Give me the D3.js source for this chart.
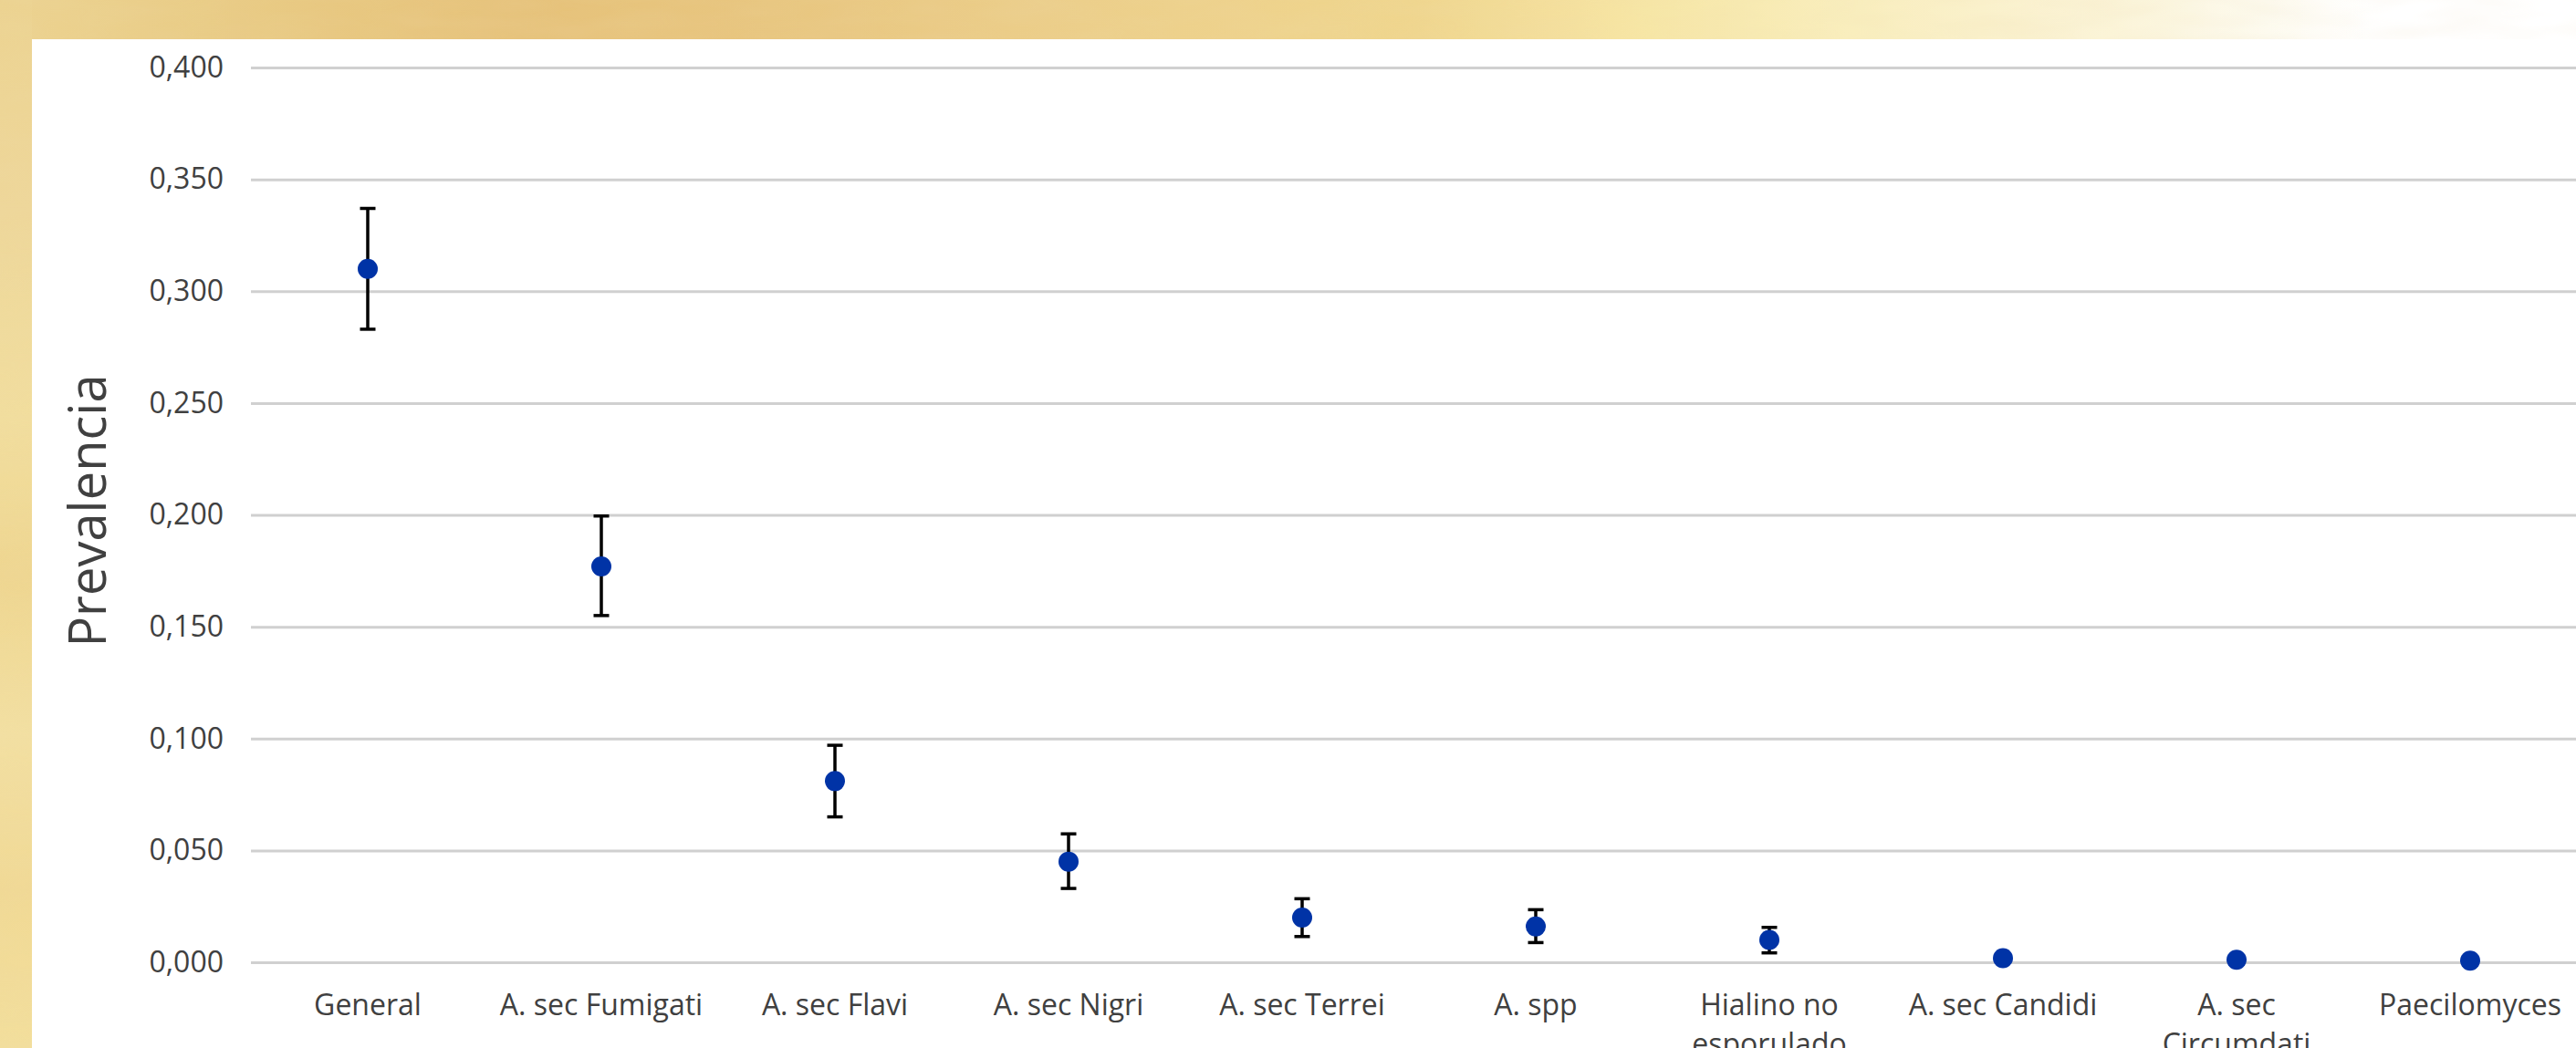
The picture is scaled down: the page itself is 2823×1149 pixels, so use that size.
<!DOCTYPE html>
<html>
<head>
<meta charset="utf-8">
<script src="https://cdn.jsdelivr.net/npm/d3@7/dist/d3.min.js"></script>
<style>
  html, body { margin: 0; padding: 0; background: #ffffff; overflow: hidden; }
  svg { display: block; }
  text { font-family: "Open Sans", "Noto Sans", sans-serif; fill: #404040; }
</style>
</head>
<body>
<svg id="chart" width="2823" height="1149"></svg>
<script>
// Prevalence by fungal group, with 95% confidence intervals
const categories = [
  "General", "A. sec Fumigati", "A. sec Flavi", "A. sec Nigri", "A. sec Terrei",
  "A. spp", "Hialino no esporulado", "A. sec Candidi", "A. sec Circumdati", "Paecilomyces"
];
const prevalence = [0.310, 0.177, 0.081, 0.045, 0.020, 0.016, 0.010, 0.0018, 0.0011, 0.0007];
const ciLow  = [0.283, 0.155, 0.065, 0.033, 0.0115, 0.0088, 0.0042, null, null, null];
const ciHigh = [0.337, 0.1995, 0.097, 0.0574, 0.0284, 0.0235, 0.0156, null, null, null];
const yTicks = [0, 0.05, 0.10, 0.15, 0.20, 0.25, 0.30, 0.35, 0.40];
const yTitle = "Prevalencia";

const W = 2823, H = 1149;
const svg = d3.select("#chart");
const defs = svg.append("defs");

// Decorative backdrop: warm parchment band along top and left edges
const topGrad = defs.append("linearGradient").attr("id", "topBand")
  .attr("x1", 0).attr("x2", 1).attr("y1", 0).attr("y2", 0);
[[0, "#ecd391"], [0.08, "#e9cc86"], [0.2, "#e6c27a"], [0.3, "#e8c680"], [0.42, "#eccf8b"],
 [0.55, "#f0d68e"], [0.64, "#f7e6a6"], [0.72, "#f9eebe"], [0.82, "#fbf4d8"], [0.88, "#fdfaee"], [0.92, "#ffffff"], [1, "#ffffff"]]
  .forEach(([o, c]) => topGrad.append("stop").attr("offset", o).attr("stop-color", c));

const leftGrad = defs.append("linearGradient").attr("id", "leftBand")
  .attr("x1", 0).attr("x2", 0).attr("y1", 0).attr("y2", 1);
[[0, "#ecd391"], [0.2, "#eed79a"], [0.4, "#f2de9e"], [0.55, "#efd690"], [0.7, "#f3e0a2"], [0.85, "#f1d995"], [1, "#f3df9c"]]
  .forEach(([o, c]) => leftGrad.append("stop").attr("offset", o).attr("stop-color", c));

const mottle = defs.append("filter").attr("id", "mottle")
  .attr("x", 0).attr("y", 0).attr("width", 1).attr("height", 1);
mottle.append("feTurbulence").attr("type", "fractalNoise")
  .attr("baseFrequency", "0.012 0.05").attr("numOctaves", 2).attr("seed", 7).attr("result", "n");
mottle.append("feColorMatrix").attr("in", "n").attr("type", "matrix")
  .attr("values", "0 0 0 0 0.85  0 0 0 0 0.7  0 0 0 0 0.4  0 0 0 0.22 -0.06").attr("result", "m");
mottle.append("feComposite").attr("in", "m").attr("in2", "SourceGraphic").attr("operator", "in").attr("result", "mm");
mottle.append("feMerge").selectAll("feMergeNode").data(["SourceGraphic", "mm"]).join("feMergeNode").attr("in", d => d);

const panel = { x: 35, y: 43 };
const backdrop = svg.append("g").attr("filter", "url(#mottle)");
backdrop.append("rect").attr("x", 0).attr("y", 0).attr("width", W).attr("height", panel.y).attr("fill", "url(#topBand)");
backdrop.append("rect").attr("x", 0).attr("y", 0).attr("width", panel.x).attr("height", H).attr("fill", "url(#leftBand)");
svg.append("rect").attr("x", panel.x).attr("y", panel.y).attr("width", W - panel.x).attr("height", H - panel.y).attr("fill", "#ffffff");

// Plot area
const plot = { left: 275, right: 2835, top: 74, bottom: 1055 };

const x = d3.scaleBand().domain(categories).range([plot.left, plot.right]).padding(0);
const y = d3.scaleLinear().domain([0, 0.4]).range([plot.bottom, plot.top]);

const locale = d3.formatLocale({ decimal: ",", thousands: ".", grouping: [3], currency: ["", "€"] });
const fmt = locale.format(".3f");

// Horizontal gridlines and value labels
const yAxis = d3.axisLeft(y).tickValues(yTicks).tickFormat(fmt)
  .tickSize(-(W - plot.left)).tickPadding(30);
const gy = svg.append("g").attr("transform", `translate(${plot.left},0)`).call(yAxis);
gy.select(".domain").remove();
gy.selectAll(".tick line").attr("stroke", "#d0d0d0").attr("stroke-width", 3);
gy.selectAll(".tick text").attr("fill", "#404040").style("font-size", "32px")
  .style("font-family", "'Open Sans', 'Noto Sans', sans-serif");

// Category labels, wrapped to the band width
const labelMax = 236;
const gx = svg.append("g");
categories.forEach(name => {
  const t = gx.append("text")
    .attr("x", x(name) + x.bandwidth() / 2).attr("y", 1113)
    .attr("text-anchor", "middle").style("font-size", "32px");
  const words = name.split(" ");
  let line = [], tspan = t.append("tspan").attr("x", x(name) + x.bandwidth() / 2).attr("dy", 0);
  let lineNo = 0;
  words.forEach(w => {
    line.push(w);
    tspan.text(line.join(" "));
    if (tspan.node().getComputedTextLength() > labelMax && line.length > 1) {
      line.pop();
      tspan.text(line.join(" "));
      line = [w];
      lineNo++;
      tspan = t.append("tspan").attr("x", x(name) + x.bandwidth() / 2).attr("dy", "1.35em").text(w);
    }
  });
});

// Y-axis title
svg.append("text")
  .attr("transform", `translate(116,${560}) rotate(-90)`)
  .attr("text-anchor", "middle")
  .style("font-size", "56px").attr("fill", "#1a1a1a")
  .text(yTitle);

// Points with confidence-interval whiskers
const rows = categories.map((c, i) => ({ c, v: prevalence[i], lo: ciLow[i], hi: ciHigh[i] }));
const cx = d => x(d.c) + x.bandwidth() / 2;
const capHalf = 8.5;

const bars = svg.append("g").selectAll("g").data(rows.filter(d => d.lo != null)).join("g")
  .attr("stroke", "#000000").attr("stroke-width", 3.5);
bars.append("line").attr("x1", cx).attr("x2", cx).attr("y1", d => y(d.lo)).attr("y2", d => y(d.hi));
bars.append("line").attr("x1", d => cx(d) - capHalf).attr("x2", d => cx(d) + capHalf)
  .attr("y1", d => y(d.hi)).attr("y2", d => y(d.hi));
bars.append("line").attr("x1", d => cx(d) - capHalf).attr("x2", d => cx(d) + capHalf)
  .attr("y1", d => y(d.lo)).attr("y2", d => y(d.lo));

svg.append("g").selectAll("circle").data(rows).join("circle")
  .attr("cx", cx).attr("cy", d => y(d.v)).attr("r", 11)
  .attr("fill", "#0033a6");
</script>
</body>
</html>
